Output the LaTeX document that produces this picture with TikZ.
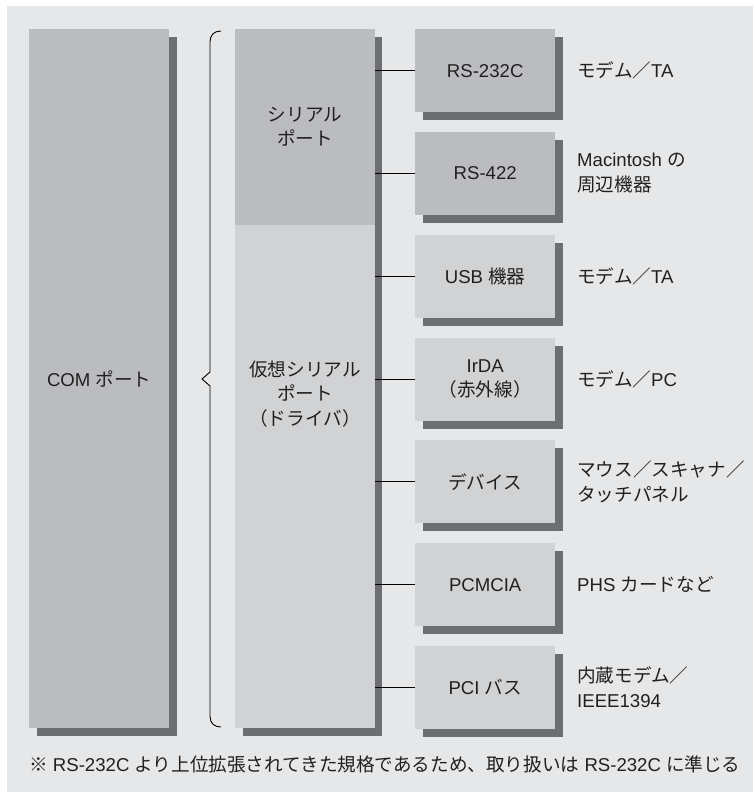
\documentclass[tikz,border=0pt]{standalone}
\usepackage{fontspec}
\setmainfont{Liberation Sans}
\newfontfamily\jp{Noto Sans CJK JP}
\newcommand{\J}[1]{{\jp #1}}
\usetikzlibrary{shadows}
\definecolor{bggray}{HTML}{E6E7E8}
\definecolor{darkbox}{HTML}{BBBCC0}
\definecolor{lightbox}{HTML}{D1D2D4}
\definecolor{shadowgray}{HTML}{6D6E71}
\definecolor{txt}{HTML}{231F20}
\tikzset{
  base/.style={rectangle, inner sep=0pt, anchor=north west, text=txt, align=center,
    font=\fontsize{18.6}{24.5}\selectfont},
  shadowed/.style={drop shadow={shadow xshift=8pt, shadow yshift=-8pt, fill=shadowgray, opacity=1}},
  devbox/.style={base, shadowed, minimum width=140pt, minimum height=83pt},
  lbl/.style={anchor=west, inner sep=0pt, text=txt, align=left, font=\fontsize{18.6}{24.5}\selectfont},
  conn/.style={draw=black, line width=0.9pt},
}
\begin{document}
\begin{tikzpicture}[x=1pt,y=-1pt]
\useasboundingbox (0,0) rectangle (753,792);
\fill[bggray] (7,6) rectangle (753,792);
% COM port
\node[devbox, fill=darkbox, minimum height=699pt] (com) at (29,29) {COM \J{ポート}};
% brace
\draw[line width=0.9pt] (221,31) .. controls (214,31) and (210,35) .. (210,42) -- (210,372) -- (202,379) coordinate (tip) -- (210,386) -- (210,716) .. controls (210,723) and (214,727) .. (221,727);
% middle column
\fill[shadowgray] (243,37) rectangle (382,736);
\node[base, fill=darkbox, minimum width=140pt, minimum height=196pt] (serial) at (235,29) {};
\node[base, fill=lightbox, minimum width=140pt, minimum height=503pt] (virt) at (235,225) {};
\node[lbl, anchor=center, align=center] (serialt) at (305,127) {\J{シリアル}\\\J{ポート}};
\node[lbl, anchor=center, align=center] (virtt) at (305,394) {\J{仮想シリアル}\\\J{ポート}\\\J{（ドライバ）}};
% device boxes
\foreach \i/\c/\t/\d in {
  0/darkbox/{RS-232C}/{\J{モデム／}TA},
  1/darkbox/{RS-422}/{Macintosh \J{の}\\\J{周辺機器}},
  2/lightbox/{USB \J{機器}}/{\J{モデム／}TA},
  3/lightbox/{IrDA\\\J{（赤外線）}}/{\J{モデム／}PC},
  4/lightbox/{\J{デバイス}}/{\J{マウス／スキャナ／}\\\J{タッチパネル}},
  5/lightbox/{PCMCIA}/{PHS \J{カードなど}},
  6/lightbox/{PCI \J{バス}}/{\J{内蔵モデム／}\\IEEE1394}}{
  \pgfmathsetmacro{\yy}{29+102.8*\i}
  \node[devbox, fill=\c] (d\i) at (415,\yy) {\t};
  \node[lbl] (l\i) at (577,\yy+41.5) {\d};
  \draw[conn] (virt.east |- d\i.west) -- (d\i.west);
}
% footnote
\node[lbl] (note) at (29,764) {\J{※} RS-232C \J{より上位拡張されてきた規格であるため、取り扱いは} RS-232C \J{に準じる}};
\end{tikzpicture}
\end{document}
